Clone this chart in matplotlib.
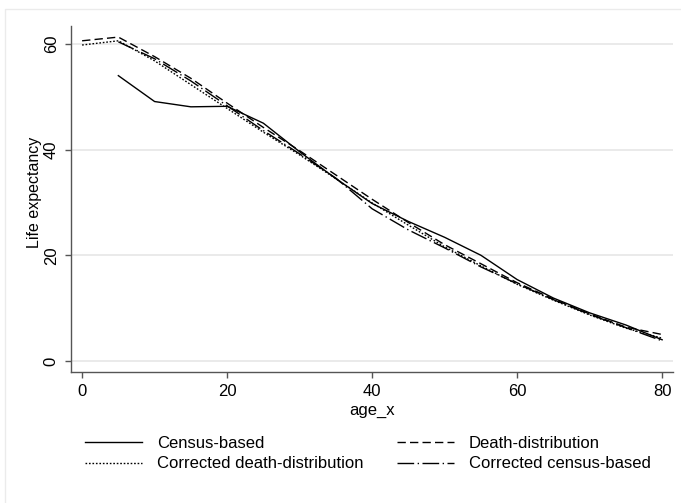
import matplotlib
matplotlib.use("Agg")
import matplotlib.pyplot as plt
import numpy as np
from matplotlib.patches import Rectangle

plt.rcParams['font.family'] = ['Liberation Sans', 'DejaVu Sans']

# life expectancy by age
ages = [0, 5, 10, 15, 20, 25, 30, 35, 40, 45, 50, 55, 60, 65, 70, 75, 80]
census_based = [np.nan, 54.0, 49.1, 48.1, 48.2, 45.0, 39.6, 34.5, 29.8, 26.4, 23.4, 20.0, 15.4, 11.9, 9.1, 6.8, 4.0]
death_dist = [60.6, 61.3, 57.6, 53.5, 48.8, 44.2, 39.8, 35.2, 30.6, 26.2, 22.0, 18.4, 14.8, 11.7, 8.9, 6.4, 5.0]
corr_death_dist = [59.8, 60.6, 56.8, 52.3, 47.8, 43.3, 39.0, 34.5, 29.9, 25.7, 21.6, 18.0, 14.5, 11.5, 8.7, 6.2, 4.3]
corr_census_based = [np.nan, 60.4, 57.2, 53.0, 48.3, 43.6, 39.2, 34.6, 28.8, 24.8, 21.4, 17.8, 14.6, 11.6, 8.8, 6.3, 3.8]

labels = ['Census-based', 'Death-distribution',
          'Corrected death-distribution', 'Corrected census-based']

fs = 12

fig = plt.figure(figsize=(6.81, 5.03), dpi=100)
fig.patches.append(Rectangle((5 / 681, -0.01), 1.0, (503 - 9) / 503 + 0.01,
                             transform=fig.transFigure, fill=False,
                             edgecolor='#ebebeb', lw=1.0))
ax = fig.add_axes([70.5 / 681, (503 - 372) / 503, (673 - 70.5) / 681, (372 - 26) / 503])

l1, = ax.plot(ages, census_based, color='black', lw=1.0)
l2, = ax.plot(ages, death_dist, color='black', lw=1.0, dashes=(6, 3))
l3, = ax.plot(ages, corr_death_dist, color='black', lw=1.0, dashes=(1.2, 1.3))
l4, = ax.plot(ages, corr_census_based, color='black', lw=1.0, dashes=(12, 2.5, 1, 2.5))

ax.set_xlim(-1.6, 81.5)
ax.set_ylim(-2.1, 63.4)
ax.set_xticks([0, 20, 40, 60, 80])
ax.set_yticks([0, 20, 40, 60])
ax.set_yticklabels(['0', '20', '40', '60'], rotation=90, va='center')
ax.grid(axis='y', color='#e6e6e6', lw=1.2)
ax.set_axisbelow(True)
for s in ['top', 'right']:
    ax.spines[s].set_visible(False)
for s in ['left', 'bottom']:
    ax.spines[s].set_color('#555555')
    ax.spines[s].set_linewidth(1.0)
ax.tick_params(colors='#555555', labelcolor='black', labelsize=fs, length=4.5, width=1.0, pad=4)
ax.set_xlabel('age_x', fontsize=fs, labelpad=3)
ax.set_ylabel('Life expectancy', fontsize=11.5)
ax.yaxis.set_label_coords(-0.048, 0.52)

# two one-column legends so each column sits where Stata puts it
leg_kw = dict(loc='upper left', frameon=False, fontsize=fs, handlelength=3.4,
              handletextpad=0.9, labelspacing=0.32, borderpad=0, borderaxespad=0)
fig.legend([l1, l3], [labels[0], labels[2]], bbox_to_anchor=(85 / 681, (503 - 436) / 503), **leg_kw)
fig.legend([l2, l4], [labels[1], labels[3]], bbox_to_anchor=(397 / 681, (503 - 436) / 503), **leg_kw)

fig.savefig('out.png', dpi=100, facecolor='white')
